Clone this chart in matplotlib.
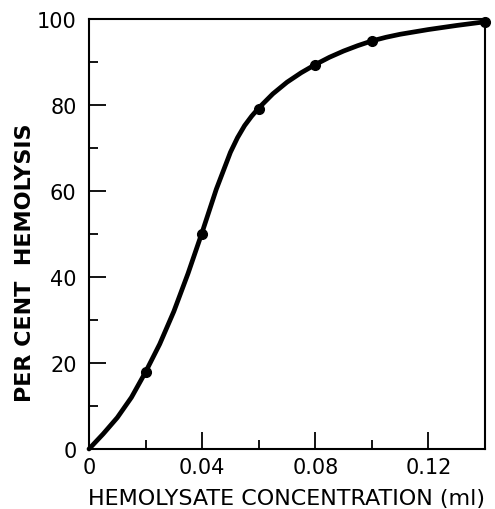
import matplotlib
matplotlib.use("Agg")
import matplotlib.pyplot as plt
from matplotlib.ticker import FixedLocator, FixedFormatter

# measured data points
conc = [0.02, 0.04, 0.06, 0.08, 0.10, 0.14]
hemolysis = [18, 50, 79, 89.3, 95, 99.3]

# smooth curve
curve_x = [0, 0.005, 0.01, 0.015, 0.02, 0.025, 0.03, 0.035, 0.04, 0.045,
           0.05, 0.0525, 0.055, 0.0575, 0.06, 0.065, 0.07, 0.075, 0.08, 0.085, 0.09, 0.095,
           0.10, 0.105, 0.11, 0.12, 0.13, 0.14]
curve_y = [0, 3.5, 7.3, 12.0, 17.9, 24.4, 32.0, 40.8, 50.4, 60.4,
           69.0, 72.4, 75.2, 77.4, 79.3, 82.6, 85.3, 87.5, 89.4, 91.1, 92.55, 93.8,
           94.9, 95.75, 96.45, 97.55, 98.5, 99.35]

x_ticks = [0, 0.04, 0.08, 0.12]
x_minor = [0.02, 0.06, 0.10]
x_tick_labels = ["0", "0.04", "0.08", "0.12"]
y_ticks = [0, 20, 40, 60, 80, 100]
y_minor = [10, 30, 50, 70, 90]
y_tick_labels = ["0", "20", "40", "60", "80", "100"]

fig = plt.figure(figsize=(4.95, 5.10), dpi=100)
ax = fig.add_axes([89/495, 60/510, 396/495, 430/510])

ax.plot(curve_x, curve_y, color="black", lw=3.4, solid_capstyle="round",
        solid_joinstyle="round", clip_on=False, zorder=3)
ax.plot(conc, hemolysis, "o", color="black", ms=7, clip_on=False, zorder=4)

ax.set_xlim(0, 0.14)
ax.set_ylim(0, 100)

ax.xaxis.set_major_locator(FixedLocator(x_ticks))
ax.xaxis.set_major_formatter(FixedFormatter(x_tick_labels))
ax.xaxis.set_minor_locator(FixedLocator(x_minor))
ax.yaxis.set_major_locator(FixedLocator(y_ticks))
ax.yaxis.set_major_formatter(FixedFormatter(y_tick_labels))
ax.yaxis.set_minor_locator(FixedLocator(y_minor))

ax.tick_params(which="major", direction="in", length=12, width=1.3, labelsize=15, colors="black")
ax.tick_params(which="minor", direction="in", length=6.5, width=1.3)
ax.tick_params(axis="y", which="major", pad=9)
ax.tick_params(axis="x", which="major", pad=6)

for s in ax.spines.values():
    s.set_linewidth(1.5)

ax.set_xlabel("HEMOLYSATE CONCENTRATION (ml)", fontsize=16, labelpad=8)
fig.text(25/495, 1 - 263/510, "PER CENT  HEMOLYSIS", rotation=90, fontsize=16,
         fontweight="bold", ha="center", va="center")

fig.savefig("out.png", dpi=100)
